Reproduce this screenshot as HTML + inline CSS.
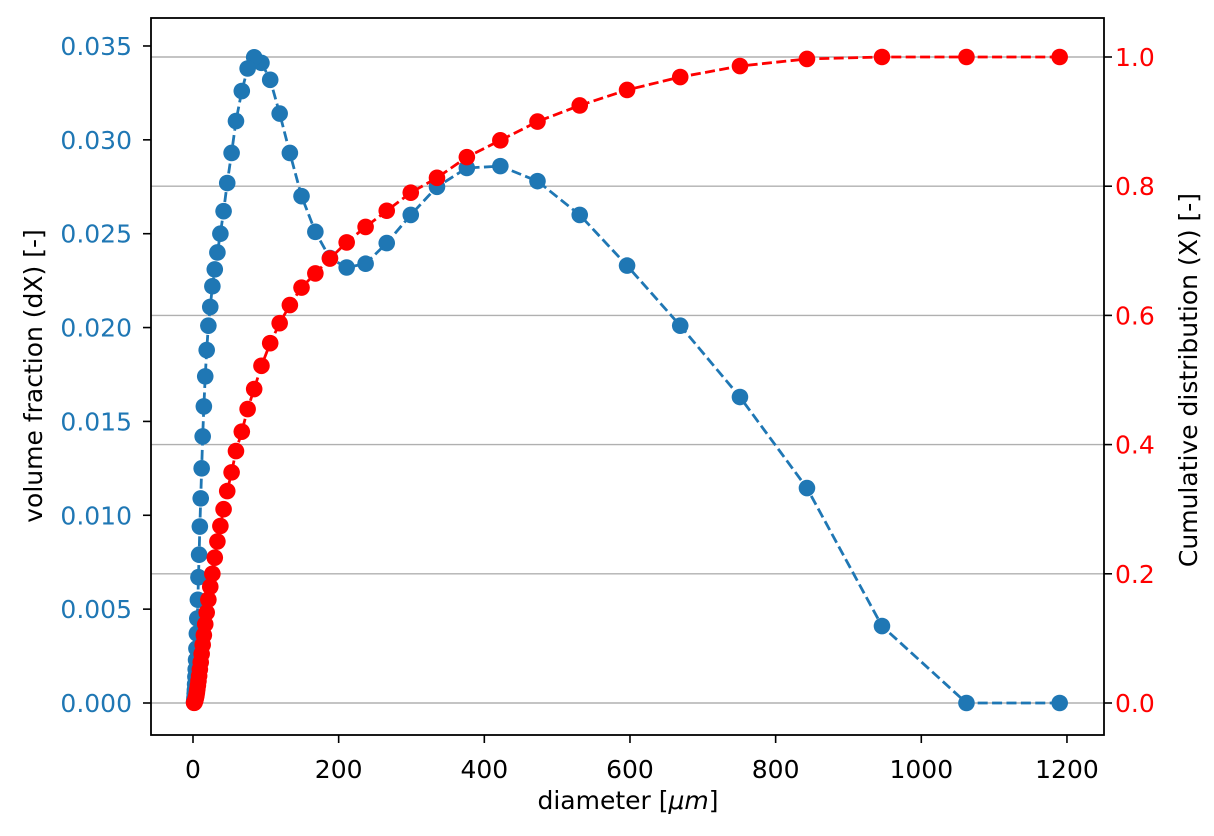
<!DOCTYPE html>
<html><head><meta charset="utf-8"><style>body{margin:0;background:#fff}svg{display:block;font-family:"DejaVu Sans","Liberation Sans",sans-serif}</style></head>
<body>
<svg id="chart" width="1214" height="836" viewBox="0 0 1214 836"></svg>
<script>
const diameters=[1190,1062,946,843,751,669,596,531,473,422,376,335,299,266,237,211,188,168,149,133,119,106,94,84,75,67,59,53,47,42,37.6,33.5,29.9,26.6,23.7,21.1,18.8,16.8,14.9,13.3,11.9,10.6,9.4,8.4,7.5,6.7,5.9,5.3,4.7,4.2,3.7,3.3,2.9,2.6,2.3,2.1,1.9,1.7,1.5];
const volumeFraction=[0,0,0.0041,0.01145,0.0163,0.0201,0.0233,0.0260,0.0278,0.0286,0.0285,0.0275,0.0260,0.0245,0.0234,0.0232,0.0237,0.0251,0.0270,0.0293,0.0314,0.0332,0.0341,0.0344,0.0338,0.0326,0.0310,0.0293,0.0277,0.0262,0.0250,0.0240,0.0231,0.0222,0.0211,0.0201,0.0188,0.0174,0.0158,0.0142,0.0125,0.0109,0.0094,0.0079,0.0067,0.0055,0.0045,0.0037,0.0029,0.0023,0.0018,0.0014,0.0010,0.0007,0.0005,0.0003,0.0002,0.0001,0.00005];
const cumulative=[1.0,1.0,1.0,0.997,0.986,0.969,0.949,0.925,0.9,0.871,0.845,0.813,0.79,0.762,0.737,0.713,0.688,0.665,0.643,0.616,0.588,0.557,0.522,0.486,0.455,0.42,0.39,0.357,0.328,0.3,0.274,0.25,0.225,0.2,0.18,0.16,0.14,0.122,0.105,0.09,0.076,0.063,0.052,0.042,0.034,0.027,0.021,0.016,0.012,0.009,0.007,0.005,0.0035,0.0025,0.0017,0.0011,0.0007,0.0004,0.0002];
const xTicks=[0,200,400,600,800,1000,1200];
const yLeftTicks=[0,0.005,0.010,0.015,0.020,0.025,0.030,0.035];
const yRightTicks=[0,0.2,0.4,0.6,0.8,1.0];

const svg=document.getElementById('chart');
const NS='http://www.w3.org/2000/svg';
const L=151,R=1104,T=18,B=735;
const sx=d=>193+d*0.7283;
const syL=v=>703-v*18772;
const syR=v=>703-v*646;
const FS=25;
function mk(tag,attrs,parent){const e=document.createElementNS(NS,tag);for(const k in attrs)e.setAttribute(k,attrs[k]);(parent||svg).appendChild(e);return e;}

yRightTicks.forEach(t=>{const g=mk('line',{x1:L,x2:R,y1:syR(t),y2:syR(t),stroke:'#b0b0b0','stroke-width':1.4});

});

const bl=mk('polyline',{points:diameters.map((d,i)=>sx(d)+','+syL(volumeFraction[i])).join(' '),fill:'none',stroke:'#1f77b4','stroke-width':2.8,'stroke-dasharray':'10,4.4'});


diameters.forEach((d,i)=>{const c=mk('circle',{cx:sx(d),cy:syL(volumeFraction[i]),r:8.3,fill:'#1f77b4'});

});

const rl=mk('polyline',{points:diameters.map((d,i)=>sx(d)+','+syR(cumulative[i])).join(' '),fill:'none',stroke:'#ff0000','stroke-width':2.8,'stroke-dasharray':'10,4.4'});


diameters.forEach((d,i)=>{const c=mk('circle',{cx:sx(d),cy:syR(cumulative[i]),r:8.3,fill:'#ff0000'});

});

const fr=mk('rect',{x:L,y:T,width:R-L,height:B-T,fill:'none',stroke:'#000','stroke-width':1.8});



xTicks.forEach(t=>{const x=sx(t);mk('line',{x1:x,x2:x,y1:B,y2:B+8,stroke:'#000','stroke-width':1.6});
const tx=mk('text',{x:x,y:B+43,'text-anchor':'middle','font-size':FS,fill:'#000'});tx.textContent=t;

});
yLeftTicks.forEach(t=>{const y=syL(t);mk('line',{x1:L-8,x2:L,y1:y,y2:y,stroke:'#000','stroke-width':1.6});
const tx=mk('text',{x:L-19,y:y+9,'text-anchor':'end','font-size':FS,fill:'#1f77b4'});tx.textContent=t.toFixed(3);

});
yRightTicks.forEach(t=>{const y=syR(t);mk('line',{x1:R,x2:R+8,y1:y,y2:y,stroke:'#000','stroke-width':1.6});
const tx=mk('text',{x:R+11,y:y+9,'text-anchor':'start','font-size':FS,fill:'#ff0000'});tx.textContent=t.toFixed(1);

});
</script>
<svg style="position:absolute;left:0;top:0" width="1214" height="836">
<text x="628" y="809" text-anchor="middle" font-size="25" font-family="DejaVu Sans,sans-serif">diameter [<tspan font-style="italic">μm</tspan>]</text>
<text x="42" y="376" text-anchor="middle" font-size="25" font-family="DejaVu Sans,sans-serif" transform="rotate(-90 42 376)">volume fraction (dX) [-]</text>
<text x="1197" y="380" text-anchor="middle" font-size="25" font-family="DejaVu Sans,sans-serif" transform="rotate(-90 1197 380)">Cumulative distribution (X) [-]</text>
</svg>
</body></html>
